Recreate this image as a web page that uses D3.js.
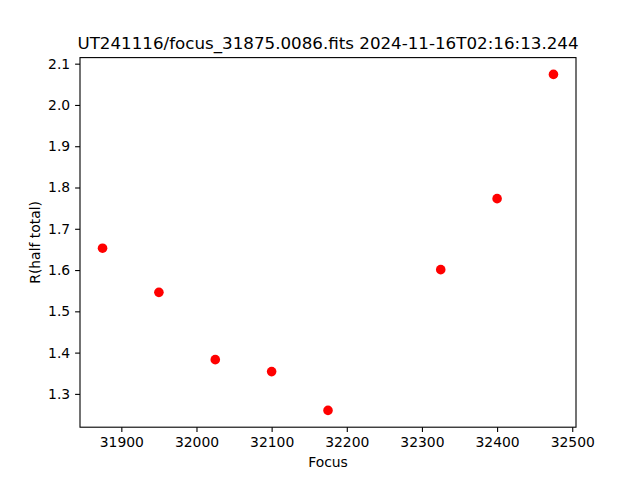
<!DOCTYPE html>
<html><head><meta charset="utf-8">
<script src="https://cdn.jsdelivr.net/npm/d3@7"></script>
<style>body{margin:0;background:#fff}svg{display:block}text{font-family:"DejaVu Sans",sans-serif;fill:#000}</style>
</head><body>
<svg id="c" width="640" height="480"></svg>
<script>
const focus = [31875, 31950, 32025, 32100, 32175, 32325, 32400, 32475];
const rHalf = [1.653, 1.546, 1.383, 1.354, 1.260, 1.601, 1.773, 2.074];
const xTicks = [31900, 32000, 32100, 32200, 32300, 32400, 32500];
const yTicks = [1.3, 1.4, 1.5, 1.6, 1.7, 1.8, 1.9, 2.0, 2.1];
const titleText = "UT241116/focus_31875.0086.fits 2024-11-16T02:16:13.244";

const W = 640, H = 480;
const L = 80, R = 576, T = 57.6, B = 427.2;
const svg = d3.select("#c");
const pad = (e) => { const d = (e[1]-e[0])*0.05; return [e[0]-d, e[1]+d]; };
const x = d3.scaleLinear().domain(pad(d3.extent(focus))).range([L, R]);
const y = d3.scaleLinear().domain(pad(d3.extent(rHalf))).range([B, T]);

const xAxis = svg.append("g").attr("transform", `translate(0,${B})`)
  .call(d3.axisBottom(x).tickValues(xTicks).tickFormat(d3.format("d")).tickSize(4.9).tickPadding(4.9));
const yAxis = svg.append("g").attr("transform", `translate(${L},0)`)
  .call(d3.axisLeft(y).tickValues(yTicks).tickFormat(d3.format(".1f")).tickSize(4.9).tickPadding(4.9));
[xAxis, yAxis].forEach(g => {
  g.select(".domain").remove();
  g.selectAll(".tick line").attr("stroke", "#000").attr("stroke-width", 1.1);
  g.selectAll(".tick text").attr("font-size", "13.9px").attr("font-family", "DejaVu Sans").attr("fill", "#000");
});

svg.append("rect").attr("x", L).attr("y", T).attr("width", R-L).attr("height", B-T)
  .attr("fill", "none").attr("stroke", "#000").attr("stroke-width", 1.1);

svg.append("g").selectAll("circle").data(focus).join("circle")
  .attr("cx", (d) => x(d)).attr("cy", (d, i) => y(rHalf[i])).attr("r", 4.8).attr("fill", "#ff0000");

svg.append("text").attr("x", (L+R)/2).attr("y", T-8.5).attr("text-anchor", "middle")
  .attr("font-size", "16.7px").text(titleText);
svg.append("text").attr("x", (L+R)/2).attr("y", 467).attr("text-anchor", "middle")
  .attr("font-size", "13.9px").text("Focus");
svg.append("text").attr("transform", `translate(39.5,${(T+B)/2}) rotate(-90)`).attr("text-anchor", "middle")
  .attr("font-size", "13.9px").text("R(half total)");
</script>
</body></html>
